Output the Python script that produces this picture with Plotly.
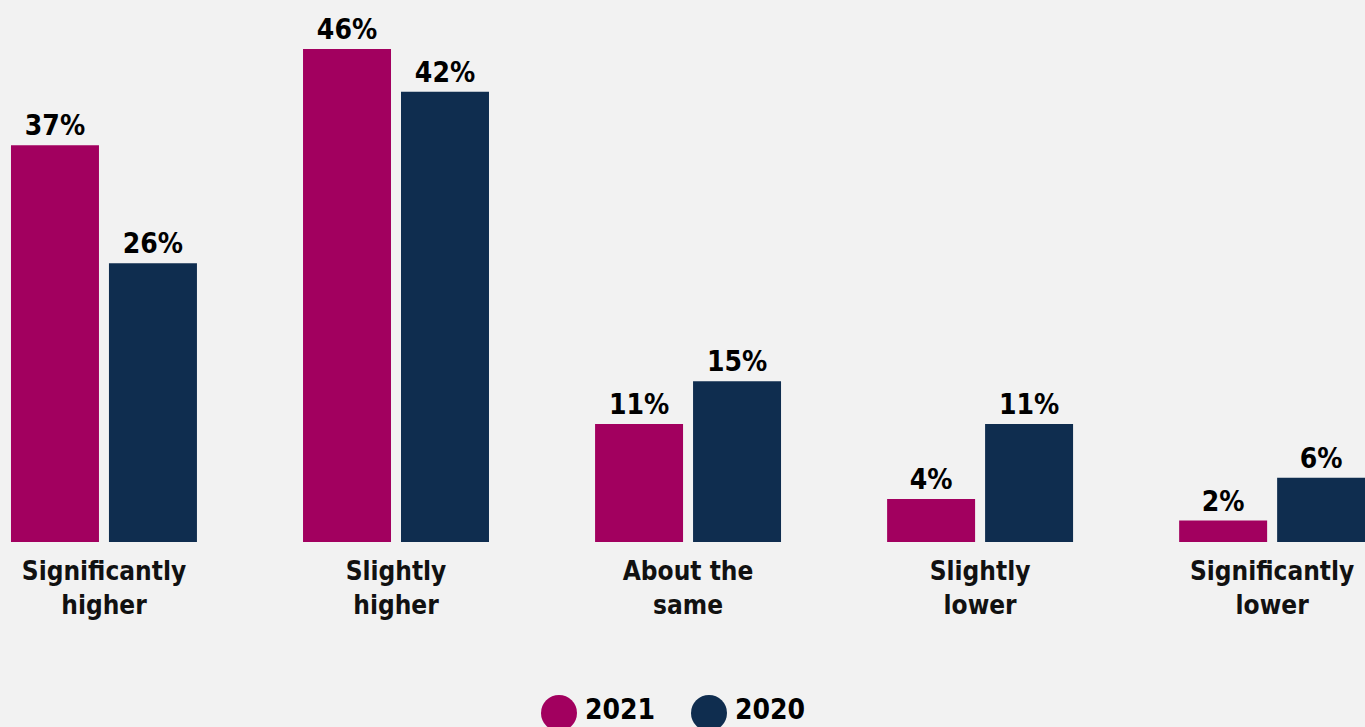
import plotly.graph_objects as go

categories = ["Significantly<br>higher", "Slightly<br>higher", "About the<br>same",
              "Slightly<br>lower", "Significantly<br>lower"]
values_2021 = [37, 46, 11, 4, 2]
values_2020 = [26, 42, 15, 11, 6]
series_names = ["2021", "2020"]
colors = ["#A2005F", "#0F2D4F"]

FONT = "DejaVu Sans Condensed, DejaVu Sans, sans-serif"
BG = "#F2F2F2"
PLOT_H = 542  # height of the plotting area in px

x = list(range(len(categories)))

fig = go.Figure()
for name, vals, col in zip(series_names, [values_2021, values_2020], colors):
    fig.add_trace(go.Bar(
        x=x, y=vals, name=name, marker=dict(color=col, line=dict(width=0)),
        text=[f"{v}%" for v in vals], textposition="outside",
        textfont=dict(family=FONT, size=28, color="#000000", weight="bold"),
        cliponaxis=False, showlegend=False,
    ))

fig.update_layout(
    width=1365, height=727,
    paper_bgcolor=BG, plot_bgcolor=BG,
    margin=dict(l=0, r=0, t=0, b=727 - PLOT_H),
    barmode="group", bargap=0.329, bargroupgap=0.102,
    xaxis=dict(range=[-0.356, 4.318], tickmode="array", tickvals=x, ticktext=categories,
               showgrid=False, zeroline=False, showline=False,
               ticks="outside", ticklen=6, tickcolor="rgba(0,0,0,0)",
               tickfont=dict(family=FONT, size=26, color="#111111", weight="bold")),
    yaxis=dict(range=[0, 50.56], visible=False, fixedrange=True),
)

# Custom legend with large circular swatches below the axis labels
legend_cx = [559, 709]
legend_cy = 713
text_cy = 709
for name, col, cx in zip(series_names, colors, legend_cx):
    px = cx / 1365
    fig.add_shape(type="circle", xref="paper", yref="paper",
                  xsizemode="pixel", ysizemode="pixel",
                  xanchor=px, yanchor=(PLOT_H - legend_cy) / PLOT_H,
                  x0=-18, x1=18, y0=-18, y1=18,
                  fillcolor=col, line=dict(width=0), layer="above")
    fig.add_annotation(xref="paper", yref="paper", x=(cx + 24) / 1365,
                       y=(PLOT_H - text_cy) / PLOT_H,
                       xanchor="left", yanchor="middle", text=name, showarrow=False,
                       font=dict(family=FONT, size=28, color="#000000", weight="bold"))

fig.write_html("out.html")
